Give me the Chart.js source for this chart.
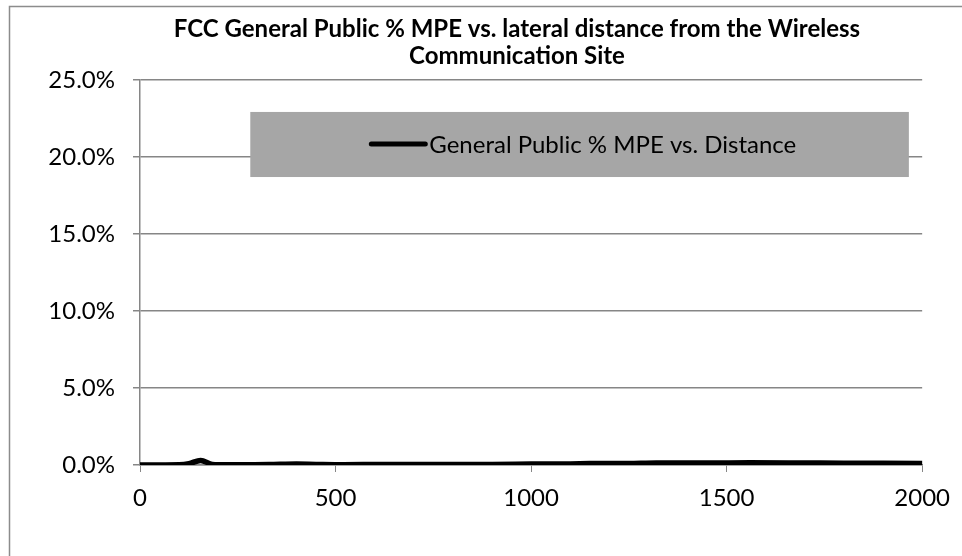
<!DOCTYPE html>
<html>
<head>
<meta charset="utf-8">
<script src="https://cdn.jsdelivr.net/npm/chart.js@4"></script>
<style>
  body { margin: 0; background: #fff; }
  #wrap { width: 962px; height: 556px; position: relative; }
</style>
</head>
<body>
<div id="wrap"><canvas id="myChart"></canvas></div>
<script>
const titleLines = ['FCC General Public % MPE vs. lateral distance from the Wireless', 'Communication Site'];
const seriesLabel = 'General Public % MPE vs. Distance';
// distance (ft) and fraction of MPE
const distances = [0, 50, 100, 125, 155, 185, 220, 280, 330, 400, 450, 520, 600, 700, 800, 900, 1000, 1100, 1150, 1250, 1320, 1450, 1560, 1700, 1800, 1900, 2000];
const mpeValues = [0, 0, 0.0001, 0.0008, 0.003, 0.0004, 0.0001, 0.0002, 0.0003, 0.0006, 0.0004, 0.0002, 0.0003, 0.0004, 0.0004, 0.0004, 0.0006, 0.0007, 0.0009, 0.001, 0.0013, 0.0013, 0.0014, 0.0013, 0.0012, 0.0011, 0.001];
const yTicks = [0, 0.05, 0.10, 0.15, 0.20, 0.25];
const xTicks = [0, 500, 1000, 1500, 2000];

const FONT = 'Lato, "Open Sans", sans-serif';
const GRID = '#868686';

const frameAndLegend = {
  id: 'frameAndLegend',
  beforeDraw(chart) {
    const ctx = chart.ctx;
    ctx.save();
    ctx.strokeStyle = '#8c8c8c';
    ctx.lineWidth = 1.5;
    ctx.strokeRect(9.5, 6.5, 2000, 2000);
    // title
    ctx.fillStyle = '#000';
    ctx.font = 'bold 24px ' + FONT;
    ctx.textAlign = 'center';
    ctx.textBaseline = 'middle';
    ctx.fillText(titleLines[0], 517, 29);
    ctx.fillText(titleLines[1], 517, 56);
    ctx.restore();
  },
  afterDraw(chart) {
    const ctx = chart.ctx;
    const a = chart.chartArea;
    const w = a.right - a.left, h = a.bottom - a.top;
    const bx = a.left + 0.141 * w, bxr = a.left + 0.983 * w;
    const by = a.top + 0.083 * h, byb = a.top + 0.252 * h;
    ctx.save();
    ctx.fillStyle = '#a6a6a6';
    ctx.fillRect(bx, by, bxr - bx, byb - by);
    const ly = by + 32;
    ctx.strokeStyle = '#000';
    ctx.lineWidth = 5;
    ctx.lineCap = 'round';
    ctx.beginPath();
    ctx.moveTo(bx + 121, ly);
    ctx.lineTo(bx + 175, ly);
    ctx.stroke();
    ctx.fillStyle = '#000';
    ctx.font = '24px ' + FONT;
    ctx.textAlign = 'left';
    ctx.textBaseline = 'middle';
    ctx.fillText(chart.data.datasets[0].label, bx + 179, ly + 1);
    ctx.restore();
  }
};

new Chart(document.getElementById('myChart').getContext('2d'), {
  type: 'line',
  data: {
    datasets: [{
      label: seriesLabel,
      data: distances.map((d, i) => ({ x: d, y: mpeValues[i] })),
      borderColor: '#000',
      backgroundColor: '#000',
      borderWidth: 5.5,
      pointRadius: 0,
      tension: 0.4,
      cubicInterpolationMode: 'monotone',
      borderCapStyle: 'round'
    }]
  },
  options: {
    responsive: true,
    maintainAspectRatio: false,
    animation: false,
    layout: { padding: { left: 0, top: 80, right: 36, bottom: 0 } },
    plugins: { legend: { display: false }, title: { display: false }, tooltip: { enabled: false } },
    scales: {
      x: {
        type: 'linear',
        min: 0,
        max: 2000,
        afterBuildTicks(scale) { scale.ticks = xTicks.map(v => ({ value: v })); },
        afterFit(scale) { scale.height = 91; },
        grid: { display: true, drawOnChartArea: false, color: GRID, tickLength: 7, tickColor: GRID },
        border: { color: GRID, width: 1.5 },
        ticks: { color: '#000', font: { family: FONT, size: 24 }, padding: 12, maxRotation: 0, callback: v => String(v) }
      },
      y: {
        min: 0,
        max: 0.25,
        afterBuildTicks(scale) { scale.ticks = yTicks.map(v => ({ value: v })); },
        afterFit(scale) { scale.width = 140; },
        grid: { color: GRID, lineWidth: 1.5, tickLength: 7, tickColor: GRID },
        border: { color: GRID, width: 1.5 },
        ticks: {
          color: '#000',
          font: { family: FONT, size: 24 },
          padding: 18,
          callback: v => (v * 100).toFixed(1) + '%'
        }
      }
    }
  },
  plugins: [frameAndLegend]
});
</script>
</body>
</html>
